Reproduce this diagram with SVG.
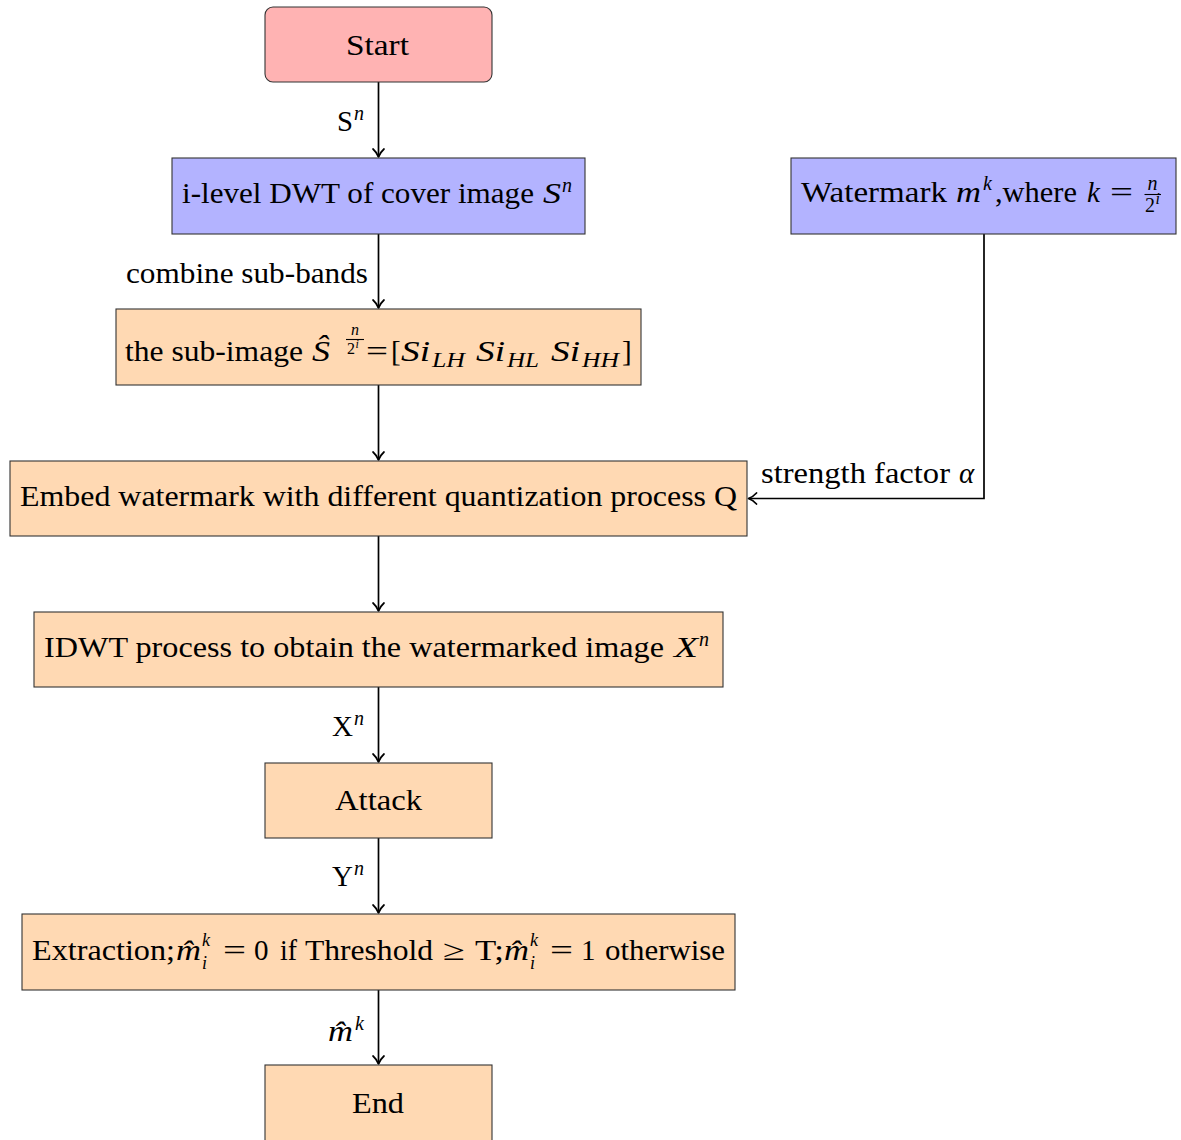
<svg xmlns="http://www.w3.org/2000/svg" width="1181" height="1140" viewBox="0 0 1181 1140">
  <style>
    .box { stroke: #333; stroke-width: 1.1; }
    .start { fill: #ffb3b3; }
    .blue { fill: #b3b3ff; }
    .orange { fill: #ffd9b3; }
    .t { font-family: "Liberation Serif", "Times New Roman", serif; font-size: 29px; fill: #000; }
    .i { font-style: italic; }
    .sc { font-size: 20px; }
    .ix { font-size: 18px; }
    .ssc { font-size: 16px; }
    .sssc { font-size: 12px; }
    .edge { fill: none; stroke: #000; stroke-width: 1.7; }
    .bar { stroke: #000; stroke-width: 1.1; }
  </style>
  <defs>
    <marker id="tip" viewBox="-11 -7 13 14" refX="0" refY="0" markerWidth="13" markerHeight="14" markerUnits="userSpaceOnUse" orient="auto">
      <path d="M-8,-5.5 C-5,-2.2 -2.2,-0.7 0,0 C-2.2,0.7 -5,2.2 -8,5.5" fill="none" stroke="#000" stroke-width="1.7" stroke-linecap="round" stroke-linejoin="round"/>
    </marker>
  </defs>

  <rect width="1181" height="1140" fill="#fff"/>

  <!-- connectors -->
  <g id="connectors">
    <path class="edge" d="M378.5,82 V157" marker-end="url(#tip)"/>
    <path class="edge" d="M378.5,234 V308" marker-end="url(#tip)"/>
    <path class="edge" d="M378.5,385 V460" marker-end="url(#tip)"/>
    <path class="edge" d="M378.5,536 V611" marker-end="url(#tip)"/>
    <path class="edge" d="M378.5,687 V762" marker-end="url(#tip)"/>
    <path class="edge" d="M378.5,838 V913" marker-end="url(#tip)"/>
    <path class="edge" d="M378.5,990 V1064" marker-end="url(#tip)"/>
    <path class="edge" d="M984,234 V498.5 H748.5" marker-end="url(#tip)"/>

    <!-- edge labels -->
    <text class="t"><tspan x="337" y="131" textLength="16" lengthAdjust="spacingAndGlyphs">S</tspan><tspan class="i sc" x="354" y="120">n</tspan></text>
    <text class="t" x="126" y="283" textLength="242" lengthAdjust="spacingAndGlyphs">combine sub-bands</text>
    <text class="t"><tspan x="761" y="483" textLength="189" lengthAdjust="spacingAndGlyphs">strength factor</tspan><tspan class="i" x="959" y="483">α</tspan></text>
    <text class="t"><tspan x="332" y="736" textLength="21" lengthAdjust="spacingAndGlyphs">X</tspan><tspan class="i sc" x="354" y="725">n</tspan></text>
    <text class="t"><tspan x="332" y="886" textLength="21" lengthAdjust="spacingAndGlyphs">Y</tspan><tspan class="i sc" x="354" y="875">n</tspan></text>
    <text class="t"><tspan class="i" x="328" y="1041" textLength="25" lengthAdjust="spacingAndGlyphs">m̂</tspan><tspan class="i sc" x="355" y="1030">k</tspan></text>
  </g>

  <!-- start node -->
  <g id="start">
    <rect class="box start" x="265" y="7" width="227" height="75" rx="8"/>
    <text class="t" x="346" y="55" textLength="63" lengthAdjust="spacingAndGlyphs">Start</text>
  </g>

  <!-- wavelet decomposition -->
  <g id="dwt">
    <rect class="box blue" x="172" y="158" width="413" height="76"/>
    <text class="t"><tspan x="182" y="203" textLength="352" lengthAdjust="spacingAndGlyphs">i-level DWT of cover image</tspan><tspan class="i" x="543" y="203" textLength="18" lengthAdjust="spacingAndGlyphs">S</tspan><tspan class="i sc" x="562" y="192">n</tspan></text>
  </g>

  <!-- watermark input -->
  <g id="watermark">
    <rect class="box blue" x="791" y="158" width="385" height="76"/>
    <text class="t"><tspan x="801" y="202" textLength="146" lengthAdjust="spacingAndGlyphs">Watermark</tspan><tspan class="i" x="956" y="202" textLength="25" lengthAdjust="spacingAndGlyphs">m</tspan><tspan class="i sc" x="983" y="190">k</tspan><tspan x="995" y="202" textLength="82" lengthAdjust="spacingAndGlyphs">,where</tspan><tspan class="i" x="1087" y="202">k</tspan><tspan x="1110" y="202" textLength="23" lengthAdjust="spacingAndGlyphs">=</tspan></text>
    <text class="t"><tspan class="i sc" x="1152.5" y="190" text-anchor="middle">n</tspan><tspan class="sc" x="1145" y="212">2</tspan><tspan class="i ssc" x="1155.5" y="204">i</tspan></text>
    <line class="bar" x1="1144.5" y1="194.5" x2="1161" y2="194.5"/>
  </g>

  <!-- combined sub-bands -->
  <g id="subimage">
    <rect class="box orange" x="116" y="309" width="525" height="76"/>
    <text class="t"><tspan x="125" y="361" textLength="178" lengthAdjust="spacingAndGlyphs">the sub-image</tspan><tspan class="i" x="312" y="361" textLength="18" lengthAdjust="spacingAndGlyphs">Ŝ</tspan><tspan x="366" y="361" textLength="22" lengthAdjust="spacingAndGlyphs">=</tspan><tspan x="391" y="361">[</tspan><tspan class="i" x="401" y="361" textLength="29" lengthAdjust="spacingAndGlyphs">Si</tspan><tspan class="i sc" x="432" y="367" textLength="33" lengthAdjust="spacingAndGlyphs">LH</tspan><tspan class="i" x="476" y="361" textLength="29" lengthAdjust="spacingAndGlyphs">Si</tspan><tspan class="i sc" x="507" y="367" textLength="32" lengthAdjust="spacingAndGlyphs">HL</tspan><tspan class="i" x="551" y="361" textLength="29" lengthAdjust="spacingAndGlyphs">Si</tspan><tspan class="i sc" x="582" y="367" textLength="37" lengthAdjust="spacingAndGlyphs">HH</tspan><tspan x="622" y="361">]</tspan></text>
    <text class="t"><tspan class="i ssc" x="355" y="335" text-anchor="middle">n</tspan><tspan class="ssc" x="347" y="354">2</tspan><tspan class="i sssc" x="355.5" y="348">i</tspan></text>
    <line class="bar" x1="346" y1="339.5" x2="364" y2="339.5"/>
  </g>

  <!-- embedding -->
  <g id="embed">
    <rect class="box orange" x="10" y="461" width="737" height="75"/>
    <text class="t" x="20" y="506" textLength="717" lengthAdjust="spacingAndGlyphs">Embed watermark with different quantization process Q</text>
  </g>

  <!-- inverse transform -->
  <g id="idwt">
    <rect class="box orange" x="34" y="612" width="689" height="75"/>
    <text class="t"><tspan x="44" y="657" textLength="620" lengthAdjust="spacingAndGlyphs">IDWT process to obtain the watermarked image</tspan><tspan class="i" x="674" y="657" textLength="24" lengthAdjust="spacingAndGlyphs">X</tspan><tspan class="i sc" x="699" y="646">n</tspan></text>
  </g>

  <!-- attack -->
  <g id="attack">
    <rect class="box orange" x="265" y="763" width="227" height="75"/>
    <text class="t" x="335" y="810" textLength="87" lengthAdjust="spacingAndGlyphs">Attack</text>
  </g>

  <!-- extraction -->
  <g id="extraction">
    <rect class="box orange" x="22" y="914" width="713" height="76"/>
    <text class="t"><tspan x="32" y="960" textLength="143" lengthAdjust="spacingAndGlyphs">Extraction;</tspan><tspan class="i" x="176" y="960" textLength="25" lengthAdjust="spacingAndGlyphs">m̂</tspan><tspan class="i ix" x="202" y="946">k</tspan><tspan class="i ix" x="202" y="969">i</tspan><tspan x="223" y="960" textLength="23" lengthAdjust="spacingAndGlyphs">=</tspan><tspan x="254" y="960">0</tspan><tspan x="280" y="960" textLength="17" lengthAdjust="spacingAndGlyphs">if</tspan><tspan x="305" y="960" textLength="128" lengthAdjust="spacingAndGlyphs">Threshold</tspan><tspan x="443" y="960" textLength="22" lengthAdjust="spacingAndGlyphs">≥</tspan><tspan x="475" y="960" textLength="29" lengthAdjust="spacingAndGlyphs">T;</tspan><tspan class="i" x="504" y="960" textLength="25" lengthAdjust="spacingAndGlyphs">m̂</tspan><tspan class="i ix" x="530" y="946">k</tspan><tspan class="i ix" x="530" y="969">i</tspan><tspan x="550" y="960" textLength="23" lengthAdjust="spacingAndGlyphs">=</tspan><tspan x="581" y="960">1</tspan><tspan x="605" y="960" textLength="120" lengthAdjust="spacingAndGlyphs">otherwise</tspan></text>
  </g>

  <!-- end node -->
  <g id="end">
    <rect class="box orange" x="265" y="1065" width="227" height="80"/>
    <text class="t" x="352" y="1113" textLength="52" lengthAdjust="spacingAndGlyphs">End</text>
  </g>
</svg>
